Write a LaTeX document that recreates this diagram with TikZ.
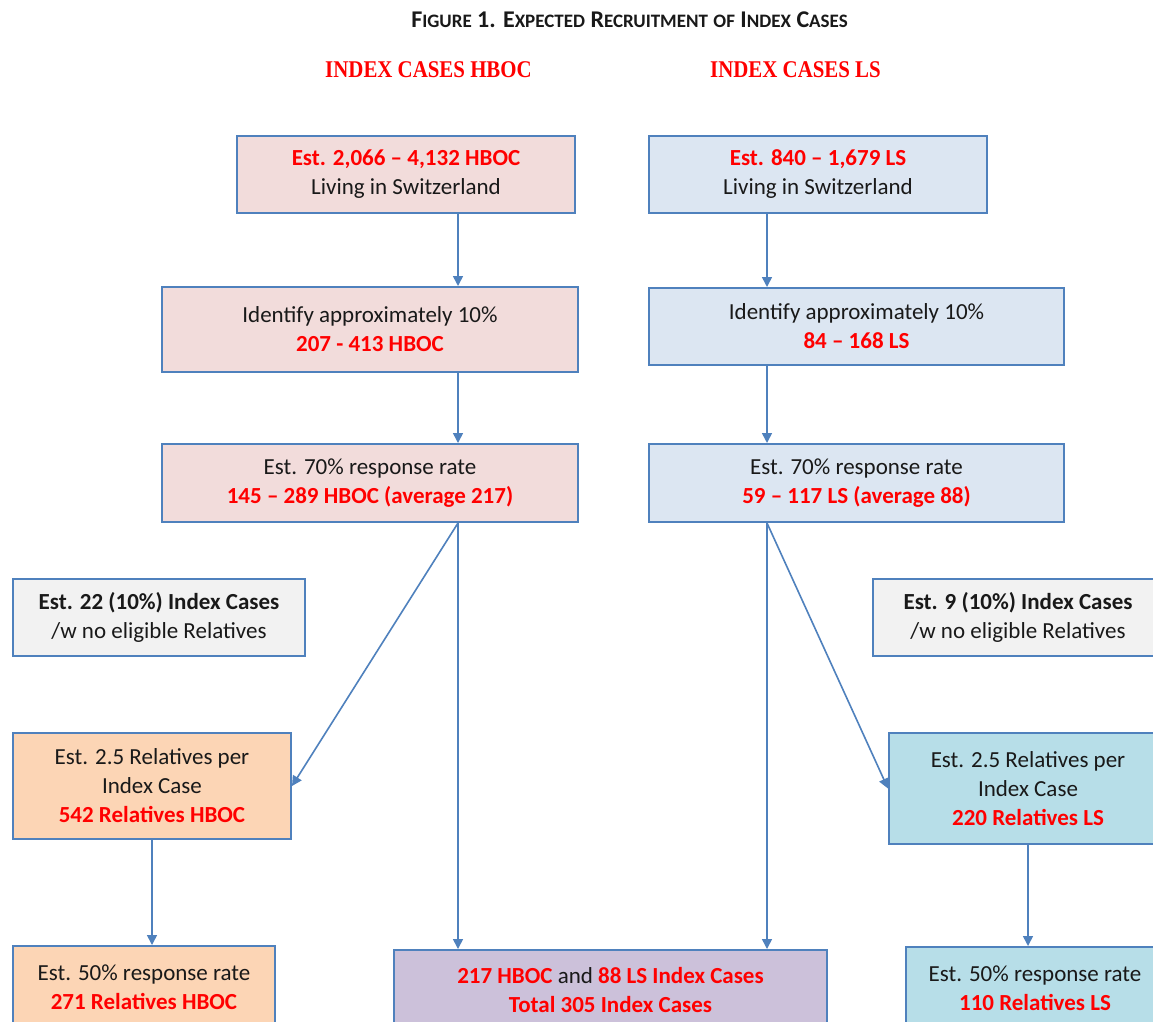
\documentclass[tikz,border=0pt]{standalone}
\usepackage{fontspec}
\setmainfont{Carlito}
\newfontfamily\headfont[FakeStretch=0.87]{Liberation Serif}
\usetikzlibrary{arrows.meta,calc,positioning}
\definecolor{boxline}{RGB}{79,129,189}
\definecolor{hbocfill}{RGB}{242,220,219}
\definecolor{lsfill}{RGB}{220,230,242}
\definecolor{greyfill}{RGB}{242,242,242}
\definecolor{relhfill}{RGB}{252,213,181}
\definecolor{rellfill}{RGB}{183,222,232}
\definecolor{totfill}{RGB}{204,193,218}
\definecolor{redtxt}{RGB}{255,0,0}
\definecolor{darktxt}{RGB}{25,25,25}
\newcommand{\rd}[1]{{\color{redtxt}\bfseries #1}}
\newcommand{\smc}[2]{#1{\fontsize{19}{19}\selectfont #2}}
\tikzset{>={Triangle[length=10pt,width=10pt]}}
\tikzset{box/.style={draw=boxline,line width=2pt,align=center,text=darktxt,inner sep=0pt,anchor=north west,font=\fontsize{23}{29}\selectfont},
link/.style={->,draw=boxline,line width=1.6pt}}

\begin{document}
\begin{tikzpicture}[x=1pt,y=-1pt]
\clip (0,0) rectangle (1153,1021);
\fill[white] (0,0) rectangle (1153,1021);
% headings
\node[text=darktxt,font=\fontsize{24}{24}\selectfont\bfseries] (title) at (629.5,20) {\smc{F}{IGURE} 1. \smc{E}{XPECTED} \smc{R}{ECRUITMENT} {\fontsize{19}{19}\selectfont OF} \smc{I}{NDEX} \smc{C}{ASES}};
\node[text=redtxt,font=\fontsize{24}{24}\headfont\bfseries] (hdA) at (428.5,70) {INDEX CASES HBOC};
\node[text=redtxt,font=\fontsize{24}{24}\headfont\bfseries] (hdB) at (795.5,70) {INDEX CASES LS};
% HBOC column
\node[box,fill=hbocfill,minimum width=338pt,minimum height=77pt] (A1) at (236,135) {\rd{Est. 2,066 -- 4,132 HBOC}\\Living in Switzerland};
\node[box,fill=hbocfill,minimum width=416pt,minimum height=85pt] (A2) at (161,286) {Identify approximately 10\%\\\rd{207 - 413 HBOC}};
\node[box,fill=hbocfill,minimum width=416pt,minimum height=78pt] (A3) at (161,443) {Est. 70\% response rate\\\rd{145 -- 289 HBOC (average 217)}};
\node[box,fill=greyfill,minimum width=292pt,minimum height=77pt] (Agrey) at (12,578) {\textbf{Est. 22 (10\%) Index Cases}\\/w no eligible Relatives};
\node[box,fill=relhfill,minimum width=278pt,minimum height=106pt] (Arel) at (12,732) {Est. 2.5 Relatives per\\Index Case\\\rd{542 Relatives HBOC}};
\node[box,fill=relhfill,minimum width=262pt,minimum height=83pt] (Arel2) at (12,945) {Est. 50\% response rate\\\rd{271 Relatives HBOC}};
% LS column
\node[box,fill=lsfill,minimum width=338pt,minimum height=77pt] (B1) at (648,135) {\rd{Est. 840 -- 1,679 LS}\\Living in Switzerland};
\node[box,fill=lsfill,minimum width=415pt,minimum height=77pt] (B2) at (648,287) {Identify approximately 10\%\\\rd{84 -- 168 LS}};
\node[box,fill=lsfill,minimum width=415pt,minimum height=78pt] (B3) at (648,443) {Est. 70\% response rate\\\rd{59 -- 117 LS (average 88)}};
\node[box,fill=greyfill,minimum width=290pt,minimum height=77pt] (Bgrey) at (872,578) {\textbf{Est. 9 (10\%) Index Cases}\\/w no eligible Relatives};
\node[box,fill=rellfill,minimum width=278pt,minimum height=111pt] (Brel) at (888,732) {Est. 2.5 Relatives per\\Index Case\\\rd{220 Relatives LS}};
\node[box,fill=rellfill,minimum width=258pt,minimum height=82pt] (Brel2) at (905,946) {Est. 50\% response rate\\\rd{110 Relatives LS}};
% total
\node[box,fill=totfill,minimum width=433pt,minimum height=79pt] (Ctot) at (393,949) {\rd{217 HBOC} and \rd{88 LS Index Cases}\\\rd{Total 305 Index Cases}};
% arrows
\coordinate (colA) at (458,0);
\coordinate (colB) at (767,0);
\draw[link] (A1.south -| colA) -- (A2.north -| colA);
\draw[link] (A2.south -| colA) -- (A3.north -| colA);
\draw[link] (A3.south -| colA) -- (Ctot.north -| colA);
\draw[link] (A3.south -| colA) -- (Arel.east);
\draw[link] (Arel.south) -- (Arel.south |- Arel2.north);
\draw[link] (B1.south -| colB) -- (B2.north -| colB);
\draw[link] (B2.south -| colB) -- (B3.north -| colB);
\draw[link] (B3.south -| colB) -- (Ctot.north -| colB);
\draw[link] (B3.south -| colB) -- (Brel.west);
\draw[link] (Brel.south) -- (Brel.south |- Brel2.north);
\end{tikzpicture}
\end{document}
